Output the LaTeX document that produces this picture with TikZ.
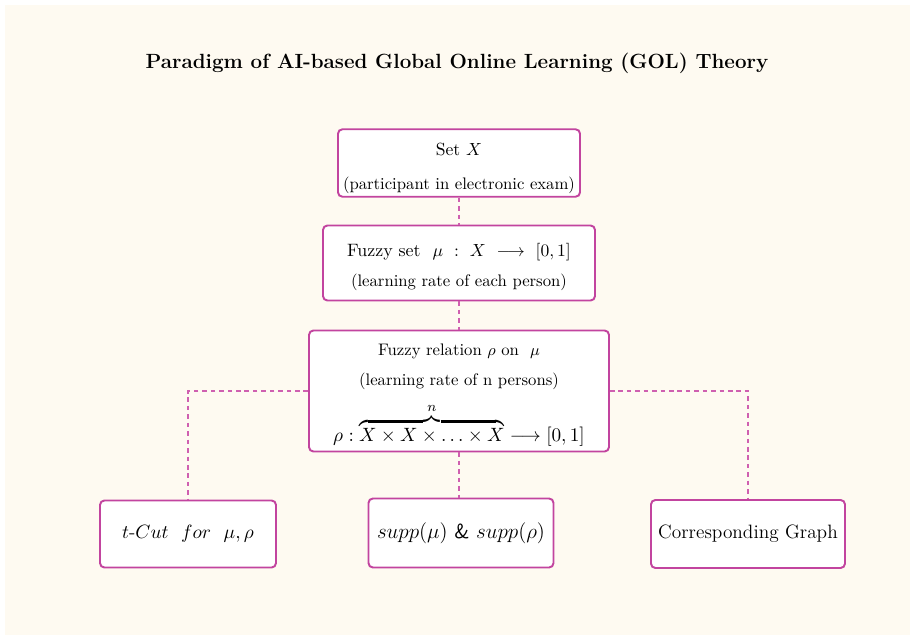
\documentclass[tikz,border=0pt]{standalone}
\usepackage{amsmath}
\usetikzlibrary{positioning}

\definecolor{cream}{HTML}{FEFAF1}
\definecolor{boxline}{HTML}{C2449F}
\definecolor{dashline}{HTML}{CF5FB0}

\begin{document}
\begin{tikzpicture}[
      box/.style={draw=boxline, line width=1.1pt, fill=white, rounded corners=2.5pt,
                  align=center, inner sep=2pt},
      link/.style={dashline, line width=1.1pt, dash pattern=on 2.6pt off 2.2pt}
   ]
         % Fond et cadre
         \useasboundingbox (0,0) rectangle (18.2,-12.7);
         \fill[cream] (0.1,-0.1) rectangle (18.2,-12.7);

         % Titre
         \node (titre) at (9.14,-1.26) {\fontsize{11.7}{13}\selectfont\bfseries Paradigm of AI-based Global Online Learning (GOL) Theory};

         % Les trois boites centrales
         \node[box, minimum width=4.84cm, minimum height=1.34cm] (ensemble) at (9.18,-3.26)
            {\fontsize{10}{11}\selectfont\rule{0pt}{13pt}Set $X$\\[7pt]
             \fontsize{9.5}{11}\selectfont (participant in electronic exam)};
         \node[box, minimum width=5.44cm, minimum height=1.5cm] (flou) at (9.18,-5.26)
            {\fontsize{10.2}{11}\selectfont\rule{0pt}{12pt}Fuzzy set ~$\mu\ :\ X\ \longrightarrow\ [0,1]$\\[5pt]
             \fontsize{9.5}{11}\selectfont (learning rate of each person)};
         \node[box, minimum width=6.0cm, minimum height=2.42cm] (relation) at (9.18,-7.82)
            {\fontsize{9.5}{11}\selectfont\rule{0pt}{11pt}Fuzzy relation $\rho$ on ~$\mu$\\[5pt]
             \fontsize{9.5}{11}\selectfont (learning rate of n persons)\\[7pt]
             \fontsize{11}{13}\selectfont $\rho:\overbrace{X\times X\times\ldots\times X}^{n}\longrightarrow[0,1]$};

         % Les trois boites du bas
         \node[box, minimum width=3.52cm, minimum height=1.34cm] (coupe) at (3.76,-10.68)
            {\fontsize{11}{13}\selectfont $t\text{-}Cut\ \ for\ \ \mu,\rho$};
         \node[box, minimum width=3.7cm, minimum height=1.38cm] (support) at (9.22,-10.66)
            {\fontsize{11.6}{13}\selectfont $supp(\mu)$ \textsf{\&} $supp(\rho)$};
         \node[box, minimum width=3.88cm, minimum height=1.36cm] (graphe) at (14.96,-10.68)
            {\fontsize{11}{13}\selectfont Corresponding Graph};

         % Liaisons en pointilles
         \draw[link] (ensemble) -- (flou);
         \draw[link] (flou) -- (relation);
         \draw[link] (relation.south) -- (relation.south |- support.north);
         \draw[link] (relation.west) -| (coupe.north);
         \draw[link] (relation.east) -| (graphe.north);
      \end{tikzpicture}
\end{document}
